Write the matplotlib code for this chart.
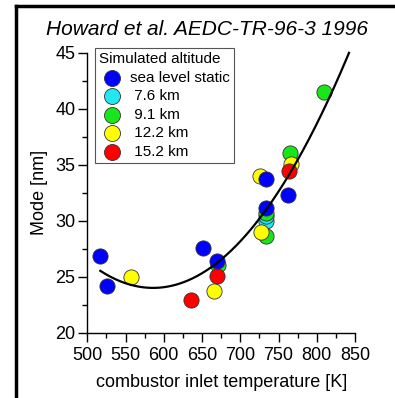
import numpy as np
import matplotlib
matplotlib.use("Agg")
import matplotlib.pyplot as plt

plt.rcParams['font.family'] = ['Liberation Sans', 'DejaVu Sans']

# Data: temperature [K], mode [nm]
sls_T = [517, 526, 651, 669, 733, 733, 762]
sls_mode = [26.85, 24.2, 27.55, 26.4, 31.1, 33.75, 32.3]

km76_T = [733, 734]
km76_mode = [29.95, 30.4]

km91_T = [671, 733, 734, 765, 809]
km91_mode = [26.0, 28.6, 30.7, 36.0, 41.5]

km122_T = [557, 665, 727, 726, 766]
km122_mode = [24.95, 23.7, 28.95, 34.0, 35.05]

km152_T = [635, 670, 764]
km152_mode = [22.95, 25.05, 34.4]

labels = ['sea level static', ' 7.6 km', ' 9.1 km', ' 12.2 km', ' 15.2 km']
colors = ['#0000ff', '#22e6f0', '#19e619', '#ffff00', '#ff0000']

# quadratic fit: mode = a * (T - T0)^2 + m0
fit_a, fit_T0, fit_m0 = 3.2e-4, 586, 24.0
fit_range = [517, 842]

fig = plt.figure(figsize=(3.95, 3.98), dpi=100)

# outer frame: left and top spines of an empty background axes
bg = fig.add_axes([16 / 395, -0.05, 1.0, 1.05 - 6 / 398], zorder=-1)
bg.set_xticks([])
bg.set_yticks([])
for s in ['right', 'bottom']:
    bg.spines[s].set_visible(False)
for s in ['left', 'top']:
    bg.spines[s].set_linewidth(2.5)
    bg.spines[s].set_color('black')

ax = fig.add_axes([0.221, 0.164, 0.678, 0.704])

series = [(sls_T, sls_mode), (km76_T, km76_mode), (km91_T, km91_mode),
          (km122_T, km122_mode), (km152_T, km152_mode)]
zorders = [7, 3, 4, 5, 6]
handles = []
for (t, m), lab, c, z in zip(series, labels, colors, zorders):
    h = ax.scatter(t, m, s=120, color=c, edgecolors='#333333', linewidths=0.6,
                   label=lab, zorder=z, clip_on=False)
    handles.append(h)

tt = np.linspace(fit_range[0], fit_range[1], 200)
ax.plot(tt, fit_a * (tt - fit_T0) ** 2 + fit_m0, color='black', lw=1.6, zorder=8, clip_on=False)

ax.set_xlim(500, 850)
ax.set_ylim(20, 45)
ax.set_xticks(np.arange(500, 851, 50))
ax.set_yticks(np.arange(20, 46, 5))
ax.set_xticks(np.arange(525, 850, 50), minor=True)
ax.set_yticks(np.arange(22.5, 45, 5), minor=True)
ax.tick_params(which='major', direction='out', length=6.5, width=1, labelsize=13, pad=2)
ax.tick_params(axis='x', which='major', pad=4)
ax.tick_params(which='minor', direction='out', length=3.5, width=1)
ax.spines['top'].set_visible(False)
ax.spines['right'].set_visible(False)
for s in ['left', 'bottom']:
    ax.spines[s].set_linewidth(1)

ax.set_xlabel('combustor inlet temperature [K]', fontsize=13, labelpad=7)
ax.set_ylabel('Mode [nm]', fontsize=13, labelpad=5)
ax.patch.set_alpha(0)
fig.text(0.525, 0.925, 'Howard et al. AEDC-TR-96-3 1996', fontsize=15, style='italic',
         ha='center', va='center')

leg = ax.legend(handles=handles, title='Simulated altitude', loc='upper left',
                bbox_to_anchor=(0.03, 1.015), fontsize=11, title_fontsize=11,
                frameon=True, fancybox=False, edgecolor='#555555', framealpha=1,
                handletextpad=0.35, borderpad=0.25, labelspacing=0.3, handlelength=1.7,
                markerscale=1.05, borderaxespad=0, alignment='left')
leg.get_frame().set_linewidth(0.8)
leg.set_zorder(10)

fig.savefig('out.png', dpi=100)
